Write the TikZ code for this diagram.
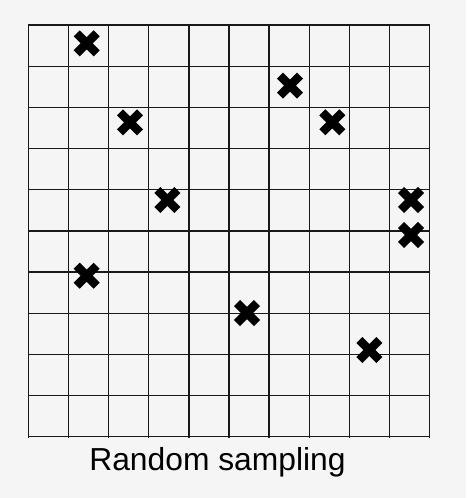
\documentclass[tikz,border=0pt]{standalone}
\usepackage{fontspec}
\setmainfont{Liberation Sans}
\definecolor{paper}{HTML}{F5F5F5}
\tikzset{
  gridline/.style={line width=1.3pt, black!90},
  sample/.style={line width=8.5pt, line cap=butt, line join=round, black}
}
\begin{document}
\begin{tikzpicture}[x=1pt, y=-1pt]
  \fill[paper] (0,0) rectangle (466,498);
  \useasboundingbox (0,0) rectangle (466,498);
  % grid of 10 x 10 cells
  \foreach \i in {0,...,10}
    \draw[gridline] ({28.3+40.14*\i},24) -- ({28.3+40.14*\i},438);
  \foreach \j in {0,...,10}
    \draw[gridline] (28.3,{25+41.17*\j}) -- (429.7,{25+41.17*\j});
  % randomly placed samples
  \foreach \x/\y in {86.7/43.3, 290/85.7, 130/122.3, 332.3/122.3, 167.3/200,
                     411/200, 411/235, 86.7/275.7, 247/313, 369.3/350}
  {
    \draw[sample] (\x-10,\y-10) -- (\x+10,\y+10);
    \draw[sample] (\x-10,\y+10) -- (\x+10,\y-10);
  }
  \node[anchor=base, font=\fontsize{31.8}{36}\selectfont, inner sep=0pt] (caption) at (217.5,470) {Random sampling};
\end{tikzpicture}
\end{document}
